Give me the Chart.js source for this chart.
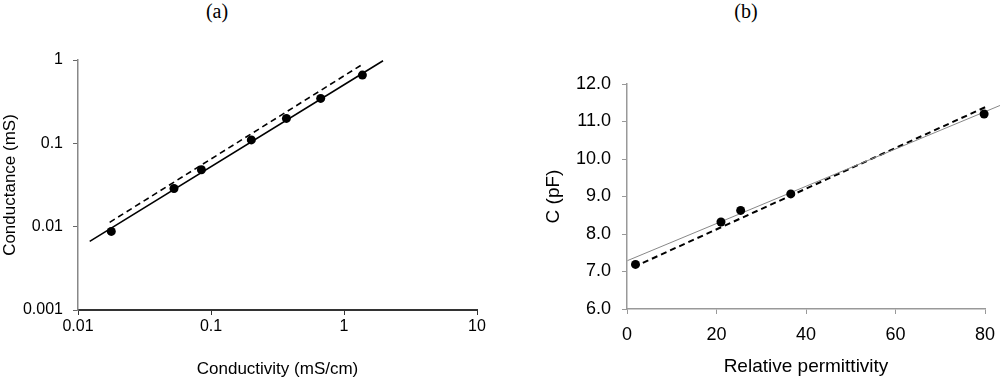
<!DOCTYPE html>
<html>
<head>
<meta charset="utf-8">
<script src="https://cdn.jsdelivr.net/npm/chart.js@4.4.1/dist/chart.umd.min.js"></script>
<style>
    body { margin: 0; background: #fff; }
    #wrap { position: relative; width: 1000px; height: 380px; overflow: hidden; }
    .panel-title { position: absolute; top: 0; font-family: "Liberation Serif", serif; font-size: 20px; color: #000; transform: translateX(-50%); }
    .box { position: absolute; top: 40px; height: 340px; }
</style>
</head>
<body>
<div id="wrap">
    <div class="panel-title" style="left:217px">(a)</div>
    <div class="panel-title" style="left:746px">(b)</div>
    <div class="box" style="left:0; width:500px"><canvas id="chartA"></canvas></div>
    <div class="box" style="left:540px; width:460px"><canvas id="chartB"></canvas></div>
</div>
<script>
// Panel (a) - conductance vs conductivity (log-log)
const conductivity = [0.0178, 0.0527, 0.0847, 0.201, 0.369, 0.668, 1.375];
const conductance = [0.00877, 0.0287, 0.0482, 0.110, 0.199, 0.346, 0.659];
const fitSolidA_x = [0.01225, 1.965];
const fitSolidA_y = [0.00665, 0.981];
const fitDashA_x = [0.0173, 1.39];
const fitDashA_y = [0.01127, 0.896];
const xTicksA = [0.01, 0.1, 1, 10];
const xLabelsA = ['0.01', '0.1', '1', '10'];
const yTicksA = [0.001, 0.01, 0.1, 1];
const yLabelsA = ['0.001', '0.01', '0.1', '1'];

// Panel (b) - capacitance vs relative permittivity
const permittivity = [1.9, 21.0, 25.4, 36.6, 79.8];
const capacitance = [7.19, 8.32, 8.63, 9.07, 11.2];
const fitSolidB_x = [0.1, 83.4];
const fitSolidB_y = [7.29, 11.43];
const fitDashB_x = [1.5, 80.4];
const fitDashB_y = [7.12, 11.40];

const FONT = '"Liberation Sans", Arial, sans-serif';

function toPoints(xs, ys) {
    return xs.map((x, i) => ({ x: x, y: ys[i] }));
}

function fixedTicks(values) {
    return function (scale) {
        scale.ticks = values.map(v => ({ value: v }));
    };
}

function lineSet(xs, ys, color, width, dash) {
    return {
        data: toPoints(xs, ys),
        showLine: true,
        borderColor: color,
        borderWidth: width,
        borderDash: dash,
        pointRadius: 0,
        clip: false,
        order: 1
    };
}

function pointSet(xs, ys) {
    return {
        data: toPoints(xs, ys),
        showLine: false,
        pointRadius: 4.5,
        pointBackgroundColor: '#000',
        pointBorderColor: '#000',
        pointBorderWidth: 0,
        clip: false,
        order: 0
    };
}

const common = {
    responsive: true,
    maintainAspectRatio: false,
    animation: false,
    plugins: { legend: { display: false }, tooltip: { enabled: false } }
};

new Chart(document.getElementById('chartA'), {
    type: 'scatter',
    data: {
        datasets: [
            pointSet(conductivity, conductance),
            lineSet(fitSolidA_x, fitSolidA_y, '#000', 1.6, []),
            lineSet(fitDashA_x, fitDashA_y, '#000', 1.6, [6, 4])
        ]
    },
    options: {
        ...common,
        layout: { padding: { top: 20, right: 23, left: 0, bottom: 0 } },
        scales: {
            x: {
                type: 'logarithmic',
                min: 0.01, max: 10,
                afterBuildTicks: fixedTicks(xTicksA),
                afterFit: s => { s.height = 70; },
                border: { color: '#333', width: 2 },
                grid: { drawOnChartArea: false, tickLength: 5, tickColor: '#333' },
                ticks: {
                    color: '#000', padding: 2, maxRotation: 0,
                    font: { family: FONT, size: 16 },
                    callback: v => xLabelsA[xTicksA.indexOf(v)]
                },
                title: {
                    display: true, text: 'Conductivity (mS/cm)', color: '#000',
                    font: { family: FONT, size: 17 }, padding: { top: 0, bottom: 0 }
                }
            },
            y: {
                type: 'logarithmic',
                min: 0.001, max: 1,
                afterBuildTicks: fixedTicks(yTicksA),
                afterFit: s => { s.width = 78; },
                border: { color: '#888', width: 1.5 },
                grid: { drawOnChartArea: false, tickLength: 5, tickColor: '#666' },
                ticks: {
                    color: '#000', padding: 10,
                    font: { family: FONT, size: 16 },
                    callback: v => yLabelsA[yTicksA.indexOf(v)]
                },
                title: {
                    display: true, text: 'Conductance (mS)', color: '#000',
                    font: { family: FONT, size: 17 }, padding: { top: 0, bottom: 0 }
                }
            }
        }
    }
});

new Chart(document.getElementById('chartB'), {
    type: 'scatter',
    data: {
        datasets: [
            pointSet(permittivity, capacitance),
            lineSet(fitSolidB_x, fitSolidB_y, '#888', 1, []),
            lineSet(fitDashB_x, fitDashB_y, '#000', 2, [6, 4])
        ]
    },
    options: {
        ...common,
        layout: { padding: { top: 44, right: 15, left: 0, bottom: 0 } },
        scales: {
            x: {
                type: 'linear',
                min: 0, max: 80,
                afterFit: s => { s.height = 71; s.paddingRight = 0; s.paddingLeft = 0; },
                border: { color: '#999', width: 1.5 },
                grid: { drawOnChartArea: false, tickLength: 5, tickColor: '#999' },
                ticks: {
                    color: '#000', padding: 10, stepSize: 20, maxRotation: 0,
                    font: { family: FONT, size: 18 }
                },
                title: {
                    display: true, text: 'Relative permittivity', color: '#000',
                    font: { family: FONT, size: 19 }, padding: { top: 0, bottom: 2 }
                }
            },
            y: {
                type: 'linear',
                min: 6, max: 12,
                afterFit: s => { s.width = 87; },
                border: { color: '#999', width: 1.5 },
                grid: { drawOnChartArea: false, tickLength: 5, tickColor: '#999' },
                ticks: {
                    color: '#000', padding: 11, stepSize: 1,
                    font: { family: FONT, size: 18 },
                    callback: v => v.toFixed(1)
                },
                title: {
                    display: true, text: 'C (pF)', color: '#000',
                    font: { family: FONT, size: 19 }, padding: { top: 2, bottom: 0 }
                }
            }
        }
    }
});
</script>
</body>
</html>
